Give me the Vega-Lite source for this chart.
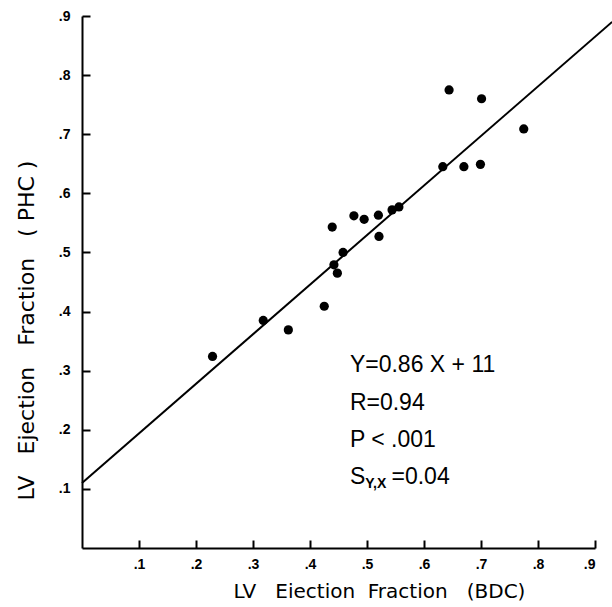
{
  "$schema": "https://vega.github.io/schema/vega-lite/v6.json",
  "width": 513,
  "height": 532,
  "autosize": "none",
  "padding": {"left": 82, "top": 16, "right": 17, "bottom": 59},
  "background": "white",
  "config": {"view": {"stroke": null}},
  "layer": [
    {
      "data": {"values": [
        {"bdc": 0.229, "phc": 0.324},
        {"bdc": 0.318, "phc": 0.385},
        {"bdc": 0.362, "phc": 0.369},
        {"bdc": 0.425, "phc": 0.409},
        {"bdc": 0.439, "phc": 0.543},
        {"bdc": 0.442, "phc": 0.479},
        {"bdc": 0.448, "phc": 0.465},
        {"bdc": 0.458, "phc": 0.500},
        {"bdc": 0.477, "phc": 0.562},
        {"bdc": 0.495, "phc": 0.556},
        {"bdc": 0.520, "phc": 0.563},
        {"bdc": 0.521, "phc": 0.527},
        {"bdc": 0.544, "phc": 0.572},
        {"bdc": 0.556, "phc": 0.577},
        {"bdc": 0.633, "phc": 0.645},
        {"bdc": 0.644, "phc": 0.775},
        {"bdc": 0.670, "phc": 0.645},
        {"bdc": 0.699, "phc": 0.649},
        {"bdc": 0.701, "phc": 0.760},
        {"bdc": 0.775, "phc": 0.709}
      ]},
      "mark": {"type": "circle", "size": 85, "color": "black", "opacity": 1},
      "encoding": {
        "x": {
          "field": "bdc", "type": "quantitative",
          "scale": {"domain": [0, 0.9], "nice": false, "zero": false},
          "axis": {
            "title": "LV\u00a0\u00a0\u00a0Eiection\u00a0\u00a0Fraction\u00a0\u00a0\u00a0(BDC)",
            "values": [0.1, 0.2, 0.3, 0.4, 0.5, 0.6, 0.7, 0.8, 0.9],
            "format": ".1f",
            "labelExpr": "replace(datum.label, '0.', '.')",
            "grid": false,
            "domainColor": "black", "domainWidth": 2,
            "tickColor": "black", "tickWidth": 2, "tickSize": -8,
            "labelPadding": 17,
            "labelFont": "Liberation Sans", "labelFontSize": 14, "labelFontWeight": "bold", "labelColor": "black",
            "titleFont": "DejaVu Sans", "titleFontSize": 20, "titleFontWeight": "normal", "titleColor": "black",
            "titleX": 297, "titleY": 43, "titleBaseline": "middle", "titleAlign": "center"
          }
        },
        "y": {
          "field": "phc", "type": "quantitative",
          "scale": {"domain": [0, 0.9], "nice": false, "zero": false},
          "axis": {
            "title": "LV\u00a0\u00a0\u00a0Ejection\u00a0\u00a0\u00a0Fraction\u00a0\u00a0\u00a0(\u00a0PHC\u00a0)",
            "values": [0.1, 0.2, 0.3, 0.4, 0.5, 0.6, 0.7, 0.8, 0.9],
            "format": ".1f",
            "labelExpr": "replace(datum.label, '0.', '.')",
            "grid": false,
            "domainColor": "black", "domainWidth": 2,
            "tickColor": "black", "tickWidth": 2, "tickSize": -8,
            "labelPadding": 20,
            "labelFont": "Liberation Sans", "labelFontSize": 14, "labelFontWeight": "bold", "labelColor": "black",
            "titleFont": "DejaVu Sans", "titleFontSize": 22, "titleFontWeight": "normal", "titleColor": "black",
            "titleX": -56, "titleY": 314, "titleBaseline": "middle", "titleAlign": "center", "titleAngle": -90
          }
        }
      }
    },
    {
      "data": {"values": [{"bdc": 0, "phc": 0.11}, {"bdc": 0.93, "phc": 0.89}]},
      "mark": {"type": "line", "color": "black", "strokeWidth": 2, "clip": false},
      "encoding": {
        "x": {"field": "bdc", "type": "quantitative"},
        "y": {"field": "phc", "type": "quantitative"}
      }
    },
    {
      "data": {"values": [
        {"bdc": 0.47, "phc": 0.31, "t": "Y=0.86 X + 11"},
        {"bdc": 0.47, "phc": 0.245, "t": "R=0.94"},
        {"bdc": 0.47, "phc": 0.183, "t": "P < .001"},
        {"bdc": 0.47, "phc": 0.12, "t": "S"}
      ]},
      "mark": {"type": "text", "align": "left", "baseline": "middle", "font": "Liberation Sans", "fontSize": 23, "color": "black"},
      "encoding": {
        "x": {"field": "bdc", "type": "quantitative"},
        "y": {"field": "phc", "type": "quantitative"},
        "text": {"field": "t"}
      }
    },
    {
      "data": {"values": [{"bdc": 0.497, "phc": 0.108, "t": "Y,X"}]},
      "mark": {"type": "text", "align": "left", "baseline": "middle", "font": "Liberation Sans", "fontSize": 14, "fontWeight": "bold", "color": "black"},
      "encoding": {
        "x": {"field": "bdc", "type": "quantitative"},
        "y": {"field": "phc", "type": "quantitative"},
        "text": {"field": "t"}
      }
    },
    {
      "data": {"values": [{"bdc": 0.543, "phc": 0.12, "t": "=0.04"}]},
      "mark": {"type": "text", "align": "left", "baseline": "middle", "font": "Liberation Sans", "fontSize": 23, "color": "black"},
      "encoding": {
        "x": {"field": "bdc", "type": "quantitative"},
        "y": {"field": "phc", "type": "quantitative"},
        "text": {"field": "t"}
      }
    }
  ]
}
